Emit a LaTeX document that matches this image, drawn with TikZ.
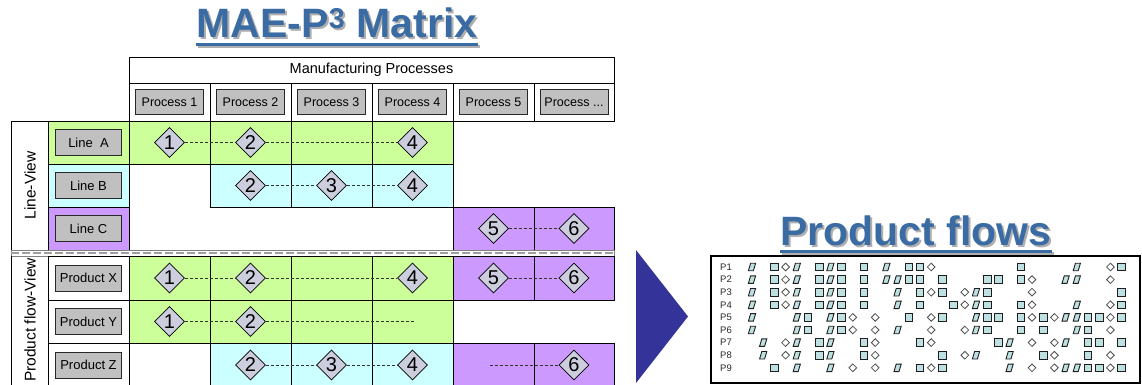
\documentclass[tikz,border=0pt]{standalone}
\usepackage{fontspec}
\setmainfont{Liberation Sans}
\usetikzlibrary{shapes.geometric}

\begin{document}
\begin{tikzpicture}[x=1pt,y=-1pt,
    heading/.style={anchor=base,inner sep=0,font=\fontsize{41}{48}\selectfont\bfseries,text={rgb,255:red,58;green,108;blue,163}},
    headshadow/.style={anchor=base,inner sep=0,font=\fontsize{41}{48}\selectfont\bfseries,text={rgb,255:red,175;green,175;blue,175}},
    rule/.style={line width=3,draw={rgb,255:red,58;green,108;blue,163}},
    ruleshadow/.style={line width=3,draw={rgb,255:red,175;green,175;blue,175}},
    frame/.style={draw,line width=0.8},
    greencell/.style={frame,fill={rgb,255:red,204;green,255;blue,153}},
    cyancell/.style={frame,fill={rgb,255:red,204;green,255;blue,255}},
    purplecell/.style={frame,fill={rgb,255:red,204;green,153;blue,255}},
    whitecell/.style={frame,fill=white},
    tag/.style={draw={rgb,255:red,40;green,40;blue,40},line width=1,fill={rgb,255:red,192;green,192;blue,192},minimum width=66,minimum height=26,inner sep=0,font=\fontsize{13}{15}\selectfont},
    procbox/.style={tag,minimum width=68,minimum height=25,font=\fontsize{12.5}{14}\selectfont},
    viewtag/.style={rotate=90,inner sep=0,font=\fontsize{15.5}{17}\selectfont},
    stage/.style={diamond,draw,line width=0.8,fill={rgb,255:red,204;green,206;blue,221},minimum width=30,minimum height=30,inner sep=0,font=\fontsize{20}{22}\selectfont},
    link/.style={dash pattern=on 3pt off 2pt,line width=0.8,draw={rgb,255:red,50;green,50;blue,50}},
    rowtag/.style={anchor=west,inner sep=0,font=\fontsize{9.5}{10}\selectfont,text={rgb,255:red,40;green,40;blue,40}},
    fsq/.style={draw={rgb,255:red,30;green,30;blue,30},line width=0.9,fill={rgb,255:red,190;green,224;blue,224},minimum size=7.5,inner sep=0},
    fpar/.style={fsq,xslant=0.3,minimum width=5,minimum height=7.5},
    fdia/.style={diamond,draw={rgb,255:red,80;green,80;blue,80},line width=0.8,fill=white,minimum width=8,minimum height=8,inner sep=0}]
\useasboundingbox (0,0) rectangle (1142,385);

% title of the matrix
\node[headshadow] (mshadow) at (339,40) {MAE-P\textsuperscript{3} Matrix};
\node[heading] (mtitle) at (337,38) {MAE-P\textsuperscript{3} Matrix};
\draw[ruleshadow] ([shift={(2,9)}]mtitle.base west) -- ([shift={(2,9)}]mtitle.base east);
\draw[rule] ([shift={(0,7)}]mtitle.base west) -- ([shift={(0,7)}]mtitle.base east);

% header
\draw[frame] (129,57) rectangle (614,83);
\node[inner sep=0,font=\fontsize{14.5}{16}\selectfont] (mp) at (371.5,70) {Manufacturing Processes};
\draw[frame] (129,83) rectangle (210,121);
\draw[frame] (210,83) rectangle (291,121);
\draw[frame] (291,83) rectangle (372,121);
\draw[frame] (372,83) rectangle (453,121);
\draw[frame] (453,83) rectangle (534,121);
\draw[frame] (534,83) rectangle (614,121);
\node[procbox] (pr1) at (169.5,102) {Process 1};
\node[procbox] (pr2) at (250.5,102) {Process 2};
\node[procbox] (pr3) at (331.5,102) {Process 3};
\node[procbox] (pr4) at (412.5,102) {Process 4};
\node[procbox] (pr5) at (493.5,102) {Process 5};
\node[procbox] (pr6) at (574,102) {Process ...};

% line view
\draw[frame] (129,121) -- (11,121) -- (11,250);
\draw[greencell] (48,121) rectangle (129,164);
\draw[cyancell] (48,164) rectangle (129,207);
\draw[purplecell] (48,207) rectangle (129,250);
\node[viewtag] (lview) at (30,185.5) {Line-View};
\node[tag] (la) at (88.5,142.5) {Line\ \ A};
\node[tag] (lb) at (88.5,185.5) {Line B};
\node[tag] (lc) at (88.5,228.5) {Line C};
\draw[greencell] (129,121) rectangle (210,164);
\draw[greencell] (210,121) rectangle (291,164);
\draw[greencell] (291,121) rectangle (372,164);
\draw[greencell] (372,121) rectangle (453,164);
\draw[cyancell] (210,164) rectangle (291,207);
\draw[cyancell] (291,164) rectangle (372,207);
\draw[cyancell] (372,164) rectangle (453,207);
\draw[purplecell] (453,207) rectangle (534,250);
\draw[purplecell] (534,207) rectangle (614,250);
\node[stage] (a1) at (169.5,142.5) {1};
\node[stage] (a2) at (250.5,142.5) {2};
\node[stage] (a4) at (412.5,142.5) {4};
\node[stage] (b2) at (250.5,185.5) {2};
\node[stage] (b3) at (331.5,185.5) {3};
\node[stage] (b4) at (412.5,185.5) {4};
\node[stage] (c5) at (493.5,228.5) {5};
\node[stage] (c6) at (574,228.5) {6};
\draw[link] (a1) -- (a2);
\draw[link] (a2) -- (a4);
\draw[link] (b2) -- (b3);
\draw[link] (b3) -- (b4);
\draw[link] (c5) -- (c6);

% separator
\draw[draw=gray,line width=0.7,fill=white] (11,250.5) rectangle (614,256);
\draw[line width=2.5,draw=gray!75,dash pattern=on 8pt off 3pt] (11,253.2) -- (614,253.2);

% product flow view
\draw[frame] (11,256) -- (11,386);
\draw[whitecell] (48,256) rectangle (129,300);
\draw[whitecell] (48,300) rectangle (129,343);
\draw[whitecell] (48,343) rectangle (129,387);
\node[viewtag] (pview) at (30,320) {Product flow-View};
\node[tag] (px) at (88.5,278) {Product X};
\node[tag] (py) at (88.5,321.5) {Product Y};
\node[tag] (pz) at (88.5,365) {Product Z};
\draw[greencell] (129,256) rectangle (210,300);
\draw[greencell] (210,256) rectangle (291,300);
\draw[greencell] (291,256) rectangle (372,300);
\draw[greencell] (372,256) rectangle (453,300);
\draw[purplecell] (453,256) rectangle (534,300);
\draw[purplecell] (534,256) rectangle (614,300);
\draw[greencell] (129,300) rectangle (210,343);
\draw[greencell] (210,300) rectangle (291,343);
\draw[greencell] (291,300) rectangle (372,343);
\draw[greencell] (372,300) rectangle (453,343);
\draw[cyancell] (210,343) rectangle (291,387);
\draw[cyancell] (291,343) rectangle (372,387);
\draw[cyancell] (372,343) rectangle (453,387);
\draw[purplecell] (453,343) rectangle (534,387);
\draw[purplecell] (534,343) rectangle (614,387);
\node[stage] (x1) at (169.5,278) {1};
\node[stage] (x2) at (250.5,278) {2};
\node[stage] (x4) at (412.5,278) {4};
\node[stage] (x5) at (493.5,278) {5};
\node[stage] (x6) at (574,278) {6};
\node[stage] (y1) at (169.5,321.5) {1};
\node[stage] (y2) at (250.5,321.5) {2};
\coordinate (yend) at (415,321.5);
\node[stage] (z2) at (250.5,365) {2};
\node[stage] (z3) at (331.5,365) {3};
\node[stage] (z4) at (412.5,365) {4};
\coordinate (zstart) at (490,365);
\node[stage] (z6) at (574,365) {6};
\draw[link] (x1) -- (x2);
\draw[link] (x2) -- (x4);
\draw[link] (x5) -- (x6);
\draw[link] (y1) -- (y2);
\draw[link] (y2) -- (yend);
\draw[link] (z2) -- (z3);
\draw[link] (z3) -- (z4);
\draw[link] (zstart) -- (z6);

% arrow
\fill[fill={rgb,255:red,51;green,51;blue,153}] (636,250) -- (688,316.5) -- (636,383) -- cycle;

% product flows
\node[headshadow] (fshadow) at (918,247) {Product flows};
\node[heading] (ftitle) at (916,245) {Product flows};
\draw[ruleshadow] ([shift={(2,8)}]ftitle.base west) -- ([shift={(2,8)}]ftitle.base east);
\draw[rule] ([shift={(0,6)}]ftitle.base west) -- ([shift={(0,6)}]ftitle.base east);
\draw[line width=2.5] (711,256) rectangle (1140,383);
\node[rowtag] (p1) at (720,267) {P1};
\node[rowtag] (p2) at (720,279.6) {P2};
\node[rowtag] (p3) at (720,292.2) {P3};
\node[rowtag] (p4) at (720,304.8) {P4};
\node[rowtag] (p5) at (720,317.4) {P5};
\node[rowtag] (p6) at (720,330) {P6};
\node[rowtag] (p7) at (720,342.6) {P7};
\node[rowtag] (p8) at (720,355.2) {P8};
\node[rowtag] (p9) at (720,367.8) {P9};
% P1
\node[fpar] (f1-0) at (752,267) {};
\node[fsq] (f1-2) at (774.4,267) {};
\node[fdia] (f1-3) at (785.6,267) {};
\node[fpar] (f1-4) at (796.8,267) {};
\node[fsq] (f1-6) at (819.2,267) {};
\node[fpar] (f1-7) at (830.4,267) {};
\node[fsq] (f1-8) at (841.6,267) {};
\node[fsq] (f1-10) at (864,267) {};
\node[fpar] (f1-12) at (886.4,267) {};
\node[fsq] (f1-14) at (908.8,267) {};
\node[fsq] (f1-15) at (920,267) {};
\node[fdia] (f1-16) at (931.2,267) {};
\node[fsq] (f1-24) at (1020.8,267) {};
\node[fpar] (f1-29) at (1076.8,267) {};
\node[fdia] (f1-32) at (1110.4,267) {};
\node[fsq] (f1-33) at (1121.6,267) {};
% P2
\node[fpar] (f2-0) at (752,279.6) {};
\node[fsq] (f2-2) at (774.4,279.6) {};
\node[fdia] (f2-3) at (785.6,279.6) {};
\node[fpar] (f2-4) at (796.8,279.6) {};
\node[fsq] (f2-6) at (819.2,279.6) {};
\node[fpar] (f2-7) at (830.4,279.6) {};
\node[fsq] (f2-8) at (841.6,279.6) {};
\node[fsq] (f2-10) at (864,279.6) {};
\node[fpar] (f2-12) at (886.4,279.6) {};
\node[fpar] (f2-13) at (897.6,279.6) {};
\node[fsq] (f2-14) at (908.8,279.6) {};
\node[fsq] (f2-15) at (920,279.6) {};
\node[fsq] (f2-17) at (942.4,279.6) {};
\node[fsq] (f2-21) at (987.2,279.6) {};
\node[fsq] (f2-22) at (998.4,279.6) {};
\node[fsq] (f2-24) at (1020.8,279.6) {};
\node[fdia] (f2-25) at (1032,279.6) {};
\node[fpar] (f2-28) at (1065.6,279.6) {};
\node[fpar] (f2-29) at (1076.8,279.6) {};
\node[fdia] (f2-32) at (1110.4,279.6) {};
% P3
\node[fpar] (f3-0) at (752,292.2) {};
\node[fsq] (f3-2) at (774.4,292.2) {};
\node[fdia] (f3-3) at (785.6,292.2) {};
\node[fpar] (f3-4) at (796.8,292.2) {};
\node[fsq] (f3-6) at (819.2,292.2) {};
\node[fpar] (f3-7) at (830.4,292.2) {};
\node[fsq] (f3-8) at (841.6,292.2) {};
\node[fsq] (f3-10) at (864,292.2) {};
\node[fpar] (f3-13) at (897.6,292.2) {};
\node[fsq] (f3-15) at (920,292.2) {};
\node[fdia] (f3-16) at (931.2,292.2) {};
\node[fsq] (f3-17) at (942.4,292.2) {};
\node[fdia] (f3-19) at (964.8,292.2) {};
\node[fpar] (f3-20) at (976,292.2) {};
\node[fsq] (f3-21) at (987.2,292.2) {};
\node[fdia] (f3-25) at (1032,292.2) {};
\node[fsq] (f3-33) at (1121.6,292.2) {};
% P4
\node[fpar] (f4-0) at (752,304.8) {};
\node[fsq] (f4-2) at (774.4,304.8) {};
\node[fdia] (f4-3) at (785.6,304.8) {};
\node[fpar] (f4-4) at (796.8,304.8) {};
\node[fsq] (f4-6) at (819.2,304.8) {};
\node[fpar] (f4-7) at (830.4,304.8) {};
\node[fsq] (f4-8) at (841.6,304.8) {};
\node[fsq] (f4-10) at (864,304.8) {};
\node[fpar] (f4-13) at (897.6,304.8) {};
\node[fsq] (f4-15) at (920,304.8) {};
\node[fsq] (f4-18) at (953.6,304.8) {};
\node[fdia] (f4-19) at (964.8,304.8) {};
\node[fpar] (f4-20) at (976,304.8) {};
\node[fsq] (f4-21) at (987.2,304.8) {};
\node[fsq] (f4-24) at (1020.8,304.8) {};
\node[fdia] (f4-25) at (1032,304.8) {};
\node[fpar] (f4-29) at (1076.8,304.8) {};
\node[fdia] (f4-32) at (1110.4,304.8) {};
\node[fsq] (f4-33) at (1121.6,304.8) {};
% P5
\node[fpar] (f5-0) at (752,317.4) {};
\node[fpar] (f5-4) at (796.8,317.4) {};
\node[fsq] (f5-5) at (808,317.4) {};
\node[fpar] (f5-7) at (830.4,317.4) {};
\node[fsq] (f5-8) at (841.6,317.4) {};
\node[fdia] (f5-9) at (852.8,317.4) {};
\node[fdia] (f5-11) at (875.2,317.4) {};
\node[fsq] (f5-14) at (908.8,317.4) {};
\node[fdia] (f5-16) at (931.2,317.4) {};
\node[fsq] (f5-17) at (942.4,317.4) {};
\node[fpar] (f5-20) at (976,317.4) {};
\node[fsq] (f5-21) at (987.2,317.4) {};
\node[fsq] (f5-22) at (998.4,317.4) {};
\node[fsq] (f5-24) at (1020.8,317.4) {};
\node[fdia] (f5-25) at (1032,317.4) {};
\node[fsq] (f5-26) at (1043.2,317.4) {};
\node[fdia] (f5-27) at (1054.4,317.4) {};
\node[fpar] (f5-28) at (1065.6,317.4) {};
\node[fpar] (f5-29) at (1076.8,317.4) {};
\node[fsq] (f5-30) at (1088,317.4) {};
\node[fsq] (f5-31) at (1099.2,317.4) {};
\node[fdia] (f5-32) at (1110.4,317.4) {};
\node[fsq] (f5-33) at (1121.6,317.4) {};
% P6
\node[fpar] (f6-0) at (752,330) {};
\node[fpar] (f6-4) at (796.8,330) {};
\node[fsq] (f6-5) at (808,330) {};
\node[fpar] (f6-7) at (830.4,330) {};
\node[fsq] (f6-8) at (841.6,330) {};
\node[fdia] (f6-9) at (852.8,330) {};
\node[fdia] (f6-11) at (875.2,330) {};
\node[fpar] (f6-13) at (897.6,330) {};
\node[fdia] (f6-16) at (931.2,330) {};
\node[fdia] (f6-19) at (964.8,330) {};
\node[fpar] (f6-20) at (976,330) {};
\node[fsq] (f6-21) at (987.2,330) {};
\node[fsq] (f6-24) at (1020.8,330) {};
\node[fsq] (f6-26) at (1043.2,330) {};
\node[fpar] (f6-29) at (1076.8,330) {};
\node[fsq] (f6-30) at (1088,330) {};
\node[fdia] (f6-32) at (1110.4,330) {};
% P7
\node[fpar] (f7-1) at (763.2,342.6) {};
\node[fdia] (f7-3) at (785.6,342.6) {};
\node[fpar] (f7-4) at (796.8,342.6) {};
\node[fsq] (f7-6) at (819.2,342.6) {};
\node[fpar] (f7-7) at (830.4,342.6) {};
\node[fsq] (f7-10) at (864,342.6) {};
\node[fdia] (f7-11) at (875.2,342.6) {};
\node[fsq] (f7-15) at (920,342.6) {};
\node[fdia] (f7-16) at (931.2,342.6) {};
\node[fsq] (f7-22) at (998.4,342.6) {};
\node[fpar] (f7-23) at (1009.6,342.6) {};
\node[fdia] (f7-25) at (1032,342.6) {};
\node[fdia] (f7-27) at (1054.4,342.6) {};
\node[fpar] (f7-28) at (1065.6,342.6) {};
\node[fsq] (f7-30) at (1088,342.6) {};
\node[fsq] (f7-31) at (1099.2,342.6) {};
\node[fsq] (f7-33) at (1121.6,342.6) {};
% P8
\node[fpar] (f8-1) at (763.2,355.2) {};
\node[fdia] (f8-3) at (785.6,355.2) {};
\node[fpar] (f8-4) at (796.8,355.2) {};
\node[fsq] (f8-6) at (819.2,355.2) {};
\node[fpar] (f8-7) at (830.4,355.2) {};
\node[fsq] (f8-10) at (864,355.2) {};
\node[fdia] (f8-11) at (875.2,355.2) {};
\node[fsq] (f8-17) at (942.4,355.2) {};
\node[fdia] (f8-19) at (964.8,355.2) {};
\node[fpar] (f8-20) at (976,355.2) {};
\node[fpar] (f8-23) at (1009.6,355.2) {};
\node[fsq] (f8-26) at (1043.2,355.2) {};
\node[fdia] (f8-27) at (1054.4,355.2) {};
\node[fsq] (f8-30) at (1088,355.2) {};
\node[fdia] (f8-32) at (1110.4,355.2) {};
% P9
\node[fsq] (f9-2) at (774.4,367.8) {};
\node[fpar] (f9-4) at (796.8,367.8) {};
\node[fpar] (f9-7) at (830.4,367.8) {};
\node[fdia] (f9-9) at (852.8,367.8) {};
\node[fdia] (f9-11) at (875.2,367.8) {};
\node[fpar] (f9-13) at (897.6,367.8) {};
\node[fsq] (f9-15) at (920,367.8) {};
\node[fdia] (f9-16) at (931.2,367.8) {};
\node[fsq] (f9-17) at (942.4,367.8) {};
\node[fpar] (f9-23) at (1009.6,367.8) {};
\node[fdia] (f9-25) at (1032,367.8) {};
\node[fdia] (f9-27) at (1054.4,367.8) {};
\node[fpar] (f9-28) at (1065.6,367.8) {};
\node[fpar] (f9-29) at (1076.8,367.8) {};
\node[fsq] (f9-30) at (1088,367.8) {};
\node[fsq] (f9-31) at (1099.2,367.8) {};
\node[fdia] (f9-32) at (1110.4,367.8) {};
\node[fsq] (f9-33) at (1121.6,367.8) {};
\end{tikzpicture}
\end{document}
